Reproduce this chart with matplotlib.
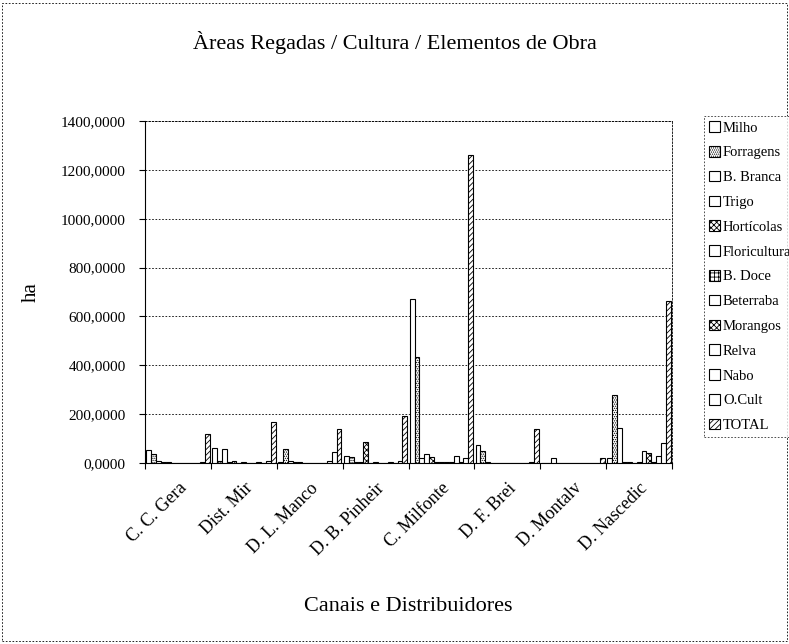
import matplotlib
matplotlib.use("Agg")
import matplotlib.pyplot as plt
import numpy as np
from matplotlib.ticker import FuncFormatter

categories = ["C. C. Gera", "Dist. Mir", "D. L. Manco", "D. B. Pinheir",
              "C. Milfonte", "D. F. Brei", "D. Montalv", "D. Nascedic"]
series_names = ["Milho", "Forragens", "B. Branca", "Trigo", "Hortícolas",
                "Floricultura", "B. Doce", "Beterraba", "Morangos", "Relva",
                "Nabo", "O.Cult", "TOTAL"]

milho        = [55, 60, 5, 30, 670, 75, 0, 20]
forragens    = [35, 10, 58, 25, 435, 50, 0, 280]
b_branca     = [8, 58, 10, 5, 20, 5, 20, 145]
trigo        = [5, 5, 5, 5, 35, 2, 0, 5]
horticolas   = [3, 8, 5, 86, 25, 2, 0, 5]
floricultura = [0, 2, 0, 2, 5, 0, 0, 0]
b_doce       = [2, 3, 2, 5, 5, 0, 0, 5]
beterraba    = [0, 1, 0, 2, 5, 0, 0, 50]
morangos     = [0, 2, 0, 2, 5, 0, 0, 40]
relva        = [2, 3, 2, 5, 30, 0, 0, 5]
nabo         = [0, 0, 10, 2, 5, 0, 0, 30]
o_cult       = [6, 8, 44, 10, 20, 5, 2, 80]
total        = [117, 168, 141, 193, 1260, 140, 22, 665]

values = [milho, forragens, b_branca, trigo, horticolas, floricultura, b_doce,
          beterraba, morangos, relva, nabo, o_cult, total]
hatches = [None, '........', None, None, 'xxxxxx', None, '++++', None,
           'XXXXXX', '####', None, None, '//////']

plt.rcParams['font.family'] = ['Liberation Serif', 'DejaVu Serif']
plt.rcParams['hatch.linewidth'] = 0.6

fig = plt.figure(figsize=(7.89, 6.44), dpi=100)
ax = fig.add_axes([145/789, 1 - 463/644, (672-145)/789, (463-121)/644])

n = len(series_names)
w = 1.0 / (n + 0.5)
x = np.arange(len(categories))
handles = []
for j, (name, vals, h) in enumerate(zip(series_names, values, hatches)):
    pos = x + (j - (n - 1) / 2) * w
    b = ax.bar(pos, vals, width=w, color='white', edgecolor='black',
               linewidth=0.8, hatch=h, label=name, zorder=3)
    handles.append(b)

ax.set_xlim(-0.5, len(categories) - 0.5)
ax.set_ylim(0, 1400)
ax.set_yticks(np.arange(0, 1401, 200))
ax.yaxis.set_major_formatter(FuncFormatter(lambda v, p: f"{v:.4f}".replace('.', ',')))
ax.grid(axis='y', linestyle=(0, (2, 2)), color='black', linewidth=0.6, zorder=0)
ax.set_xticks(np.arange(-0.5, len(categories), 1.0), minor=False)
ax.set_xticklabels([])
ax.set_xticks(x, minor=True)
ax.set_xticklabels(categories, minor=True, rotation=45, ha='right',
                   va='top', rotation_mode='anchor', fontsize=13)
ax.tick_params(axis='x', which='minor', length=0, pad=12)
ax.tick_params(axis='x', which='major', length=4, direction='out')
ax.tick_params(axis='y', labelsize=11, length=4, pad=10)

for s in ['top', 'right']:
    ax.spines[s].set_linestyle((0, (2, 2)))
    ax.spines[s].set_linewidth(0.6)

ax.set_ylabel('ha', fontsize=15, labelpad=14)
ax.set_xlabel('Canais e Distribuidores', fontsize=16, labelpad=28)
fig.text(0.5, 1 - 42/644, 'Àreas Regadas / Cultura / Elementos de Obra',
         ha='center', va='center', fontsize=16)

leg = fig.legend(handles=handles, labels=series_names, loc='upper left',
                 bbox_to_anchor=(704/789, 1 - 116/644), fontsize=10.5,
                 frameon=True, fancybox=False, edgecolor='black',
                 handlelength=0.75, handleheight=0.75, handletextpad=0.2,
                 labelspacing=0.78, borderpad=0.35, borderaxespad=0)
leg.get_frame().set_linestyle((0, (2, 2)))
leg.get_frame().set_linewidth(0.6)

border = plt.Rectangle((0.003, 0.005), 0.994, 0.99, transform=fig.transFigure,
                       fill=False, edgecolor='black', linewidth=0.6,
                       linestyle=(0, (2, 2)))
fig.patches.append(border)

fig.savefig('out.png', dpi=100)
